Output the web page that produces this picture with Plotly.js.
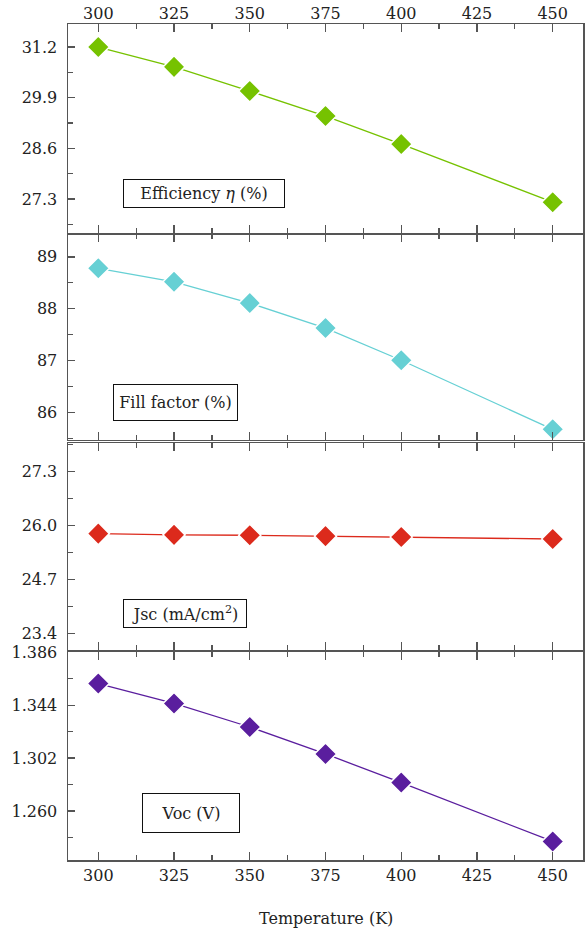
<!DOCTYPE html>
<html>
<head>
<meta charset="utf-8">
<script src="https://cdn.plot.ly/plotly-3.0.1.min.js"></script>
<style>html,body{margin:0;padding:0;background:#fff;}#chart{width:585px;height:933px;}</style>
</head>
<body>
<div id="chart"></div>
<script>
// Data
const temperature = [300, 325, 350, 375, 400, 450];
const efficiency = [31.2, 30.69, 30.07, 29.43, 28.71, 27.22];
const fillFactor = [88.78, 88.52, 88.11, 87.63, 87.01, 85.68];
const jsc = [25.81, 25.78, 25.77, 25.75, 25.73, 25.68];
const voc = [1.3612, 1.3454, 1.3267, 1.3053, 1.2826, 1.2359];
const panelLabels = ['Efficiency <i>η</i> (%)', 'Fill factor (%)', 'Jsc (mA/cm<sup>2</sup>)', 'Voc (V)'];
const xTitle = 'Temperature (K)';

const colors = ['#76c200', '#66d0d4', '#dc2a1c', '#5a1e9e'];
const series = [efficiency, fillFactor, jsc, voc];
const font = {family: 'DejaVu Serif', size: 16, color: '#222'};

const traces = series.map((s, i) => ({
  x: temperature, y: s,
  xaxis: i === 0 ? 'x' : 'x' + (i + 1),
  yaxis: i === 0 ? 'y' : 'y' + (i + 1),
  mode: 'lines+markers', type: 'scatter',
  line: {color: colors[i], width: 1.3},
  marker: {symbol: 'diamond', size: 17, color: colors[i], line: {color: '#fff', width: 1.5}},
  cliponaxis: false, showlegend: false
}));

const axLine = {showline: true, linecolor: '#555', linewidth: 1.5, zeroline: false, showgrid: false, tickcolor: '#555', tickwidth: 1.3};

function xax(i) {
  return Object.assign({}, axLine, {
    range: [290, 460], tickmode: 'linear', tick0: 300, dtick: 25,
    ticks: 'inside', ticklen: 8, mirror: 'ticks',
    minor: {ticks: 'inside', ticklen: 5, tick0: 287.5, dtick: 12.5, tickcolor: '#555', tickwidth: 1.3},
    anchor: i === 0 ? 'y' : 'y' + (i + 1),
    side: i === 0 ? 'top' : 'bottom',
    showticklabels: i === 0 || i === 3,
    tickfont: font, ticklabelstandoff: i === 0 ? -3 : 0
  });
}
const doms = [[0.75, 1.0], [0.5024, 0.7488], [0.2512, 0.4988], [0, 0.2488]];
const yspecs = [
  {range: [26.43, 31.79], tick0: 27.3, dtick: 1.3, minor: 0.65, fmt: '.1f'},
  {range: [85.475, 89.44], tick0: 86, dtick: 1, minor: 0.5, fmt: 'd'},
  {range: [23.01, 27.99], tick0: 23.4, dtick: 1.3, minor: 0.65, fmt: '.1f'},
  {range: [1.2212, 1.3862], tick0: 1.26, dtick: 0.042, minor: 0.021, fmt: '.3f'}
];
function yax(i) {
  const s = yspecs[i];
  return Object.assign({}, axLine, {
    domain: doms[i], range: s.range, tickmode: 'linear', tick0: s.tick0, dtick: s.dtick,
    tickformat: s.fmt, ticks: 'inside', ticklen: 7, mirror: true,
    minor: {ticks: 'inside', ticklen: 5, tick0: s.tick0, dtick: s.minor, tickcolor: '#555', tickwidth: 1.3},
    anchor: i === 0 ? 'x' : 'x' + (i + 1),
    tickfont: font, ticklabelstandoff: 6
  });
}

const layout = {
  width: 585, height: 933,
  margin: {l: 68, r: 2, t: 24, b: 73},
  paper_bgcolor: '#fff', plot_bgcolor: '#fff',
  font: font,
  annotations: [
    {text: panelLabels[0], x: 0.264, y: 0.797, width: 160, height: 27},
    {text: panelLabels[1], x: 0.2078, y: 0.5467, width: 123, height: 35},
    {text: panelLabels[2], x: 0.227, y: 0.2943, width: 122, height: 27},
    {text: panelLabels[3], x: 0.2388, y: 0.0562, width: 96, height: 38},
  ].map(a => Object.assign({
    xref: 'paper', yref: 'paper', xanchor: 'center', yanchor: 'middle', showarrow: false,
    bordercolor: '#111', borderwidth: 1, borderpad: 0, bgcolor: 'rgba(255,255,255,0)', font: font
  }, a)).concat([
    {text: xTitle, xref: 'paper', yref: 'paper', x: 0.5, y: (860 - 918) / 836, xanchor: 'center', yanchor: 'middle', showarrow: false, font: font}
  ])
};
for (let i = 0; i < 4; i++) {
  layout[i === 0 ? 'xaxis' : 'xaxis' + (i + 1)] = xax(i);
  layout[i === 0 ? 'yaxis' : 'yaxis' + (i + 1)] = yax(i);
}
Plotly.newPlot('chart', traces, layout, {displayModeBar: false, staticPlot: true});
</script>
</body>
</html>
